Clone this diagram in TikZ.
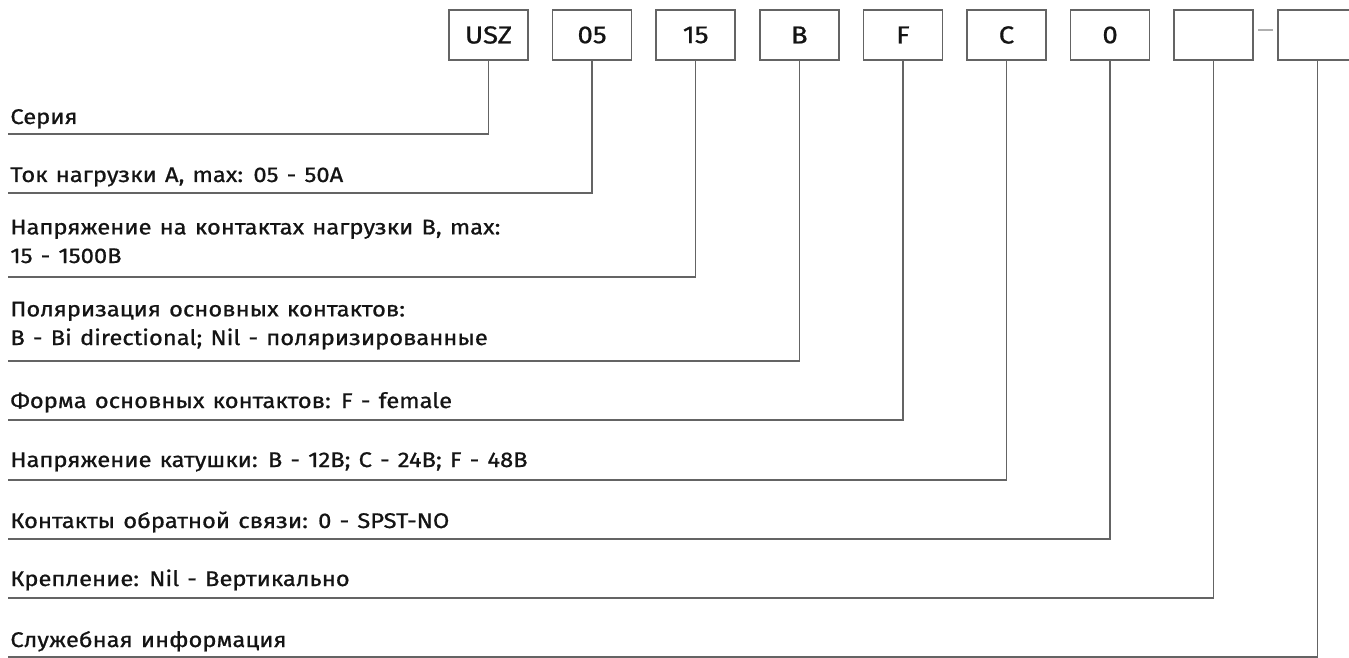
\documentclass[tikz,border=0pt]{standalone}
\usepackage{fontspec}
\setmainfont{Fira Sans}[FakeBold=0.8, FakeStretch=1.12, WordSpace=1.3]
\usetikzlibrary{positioning}
\definecolor{gray1}{RGB}{100,100,100}
\definecolor{gray3}{RGB}{175,175,175}
\definecolor{black1}{RGB}{20,20,20}

\begin{document}
\begin{tikzpicture}[x=0.5pt, y=-0.5pt, node distance=12.3pt]

\tikzstyle{code}	=[rectangle, draw=gray1, line width=0.75pt, minimum width=39.5pt, minimum height=25pt,
						inner sep=0pt, outer sep=0pt, text=black1, font=\fontsize{12.3}{14}\selectfont]
\tikzstyle{descr}	=[anchor=base west, inner sep=0pt, text=black1, align=left, font=\fontsize{10.6}{14.3}\selectfont]
\tikzstyle{link}	=[draw=gray1, line width=0.75pt]
\tikzstyle{joiner}	=[draw=gray3, line width=0.75pt]

\useasboundingbox (0,0) rectangle (1349,658);

\node[code] 				(ser) at (488.5,35)	{USZ};
\node[code, right=of ser]	(cur)		{05};
\node[code, right=of cur]	(volt)		{15};
\node[code, right=of volt]	(pol)		{B};
\node[code, right=of pol]	(form)		{F};
\node[code, right=of form]	(coil)		{C};
\node[code, right=of coil]	(fb)		{0};
\node[code, right=of fb]	(mnt)		{};
\node[code, right=of mnt]	(srv)		{};

\draw [joiner] ([shift={(5,-5)}]mnt.east) -- ([shift={(-5,-5)}]srv.west);

\node[descr] (t1) at (10,124)	{Серия};
\node[descr] (t2) at (10,182)	{Ток нагрузки А, max: 05 - 50А};
\node[descr] (t3) at (10,263)	{Напряжение на контактах нагрузки В, max:\\15 - 1500В};
\node[descr] (t4) at (10,345)	{Поляризация основных контактов:\\B - Bi directional; Nil - поляризированные};
\node[descr] (t5) at (10,408)	{Форма основных контактов: F - female};
\node[descr] (t6) at (10,467)	{Напряжение катушки: B - 12В; C - 24В; F - 48В};
\node[descr] (t7) at (10,528)	{Контакты обратной связи: 0 - SPST-NO};
\node[descr] (t8) at (10,586)	{Крепление: Nil - Вертикально};
\node[descr] (t9) at (10,647)	{Служебная информация};

\coordinate (e1) at (8,134);
\coordinate (e2) at (8,193);
\coordinate (e3) at (8,277);
\coordinate (e4) at (8,361);
\coordinate (e5) at (8,420);
\coordinate (e6) at (8,480);
\coordinate (e7) at (8,539);
\coordinate (e8) at (8,598);
\coordinate (e9) at (8,657);

\draw [link] (ser.south)	|- (e1);
\draw [link] (cur.south)	|- (e2);
\draw [link] (volt.south)	|- (e3);
\draw [link] (pol.south)	|- (e4);
\draw [link] (form.south)	|- (e5);
\draw [link] (coil.south)	|- (e6);
\draw [link] (fb.south)		|- (e7);
\draw [link] (mnt.south)	|- (e8);
\draw [link] (srv.south)	|- (e9);

\end{tikzpicture}
\end{document}
